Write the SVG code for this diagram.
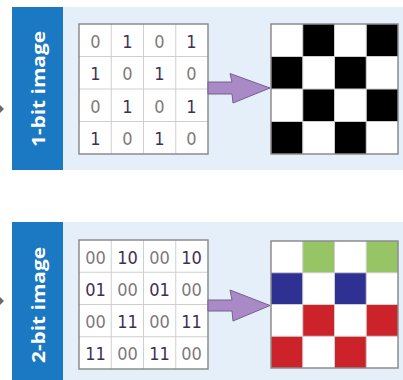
<svg xmlns="http://www.w3.org/2000/svg" width="403" height="380" viewBox="0 0 403 380">
<defs>
<style>
.panel{fill:#e4eff9}
.label{fill:#1b78c2}
.ltxt{font-family:"Open Sans","Liberation Sans",sans-serif;font-weight:bold;font-size:18px;fill:#ffffff}
.cellbg{fill:#ffffff}
.inner{stroke:#cfcfcf;stroke-width:1;fill:none}
.outer{stroke:#8c8c8c;stroke-width:1.5;fill:none}
.d0{font-family:"DejaVu Sans Condensed","DejaVu Sans",sans-serif;font-size:18px;fill:#807a7c;text-anchor:middle}
.d1{font-family:"DejaVu Sans Condensed","DejaVu Sans",sans-serif;font-size:18px;fill:#3e2f52;text-anchor:middle}
.arrow{fill:#a98ac6;stroke:#76608e;stroke-width:1}
.blk{fill:#000000}
.grn{fill:#97c465}
.blu{fill:#2e3192}
.red{fill:#cc2229}
.tick{fill:#6a6a6a}
</style>
</defs>

<g id="panel-1bit">
<rect class="panel" x="12" y="7" width="391" height="163"/>
<rect class="label" x="12" y="7" width="51" height="163"/>
<text class="ltxt" transform="translate(44.5,89) rotate(-90)" text-anchor="middle" textLength="116" lengthAdjust="spacingAndGlyphs">1-bit image</text>
<polygon class="tick" points="0,105 4,109 0,113"/>
</g>

<g id="matrix-1bit">
<rect class="cellbg" x="79" y="24" width="129" height="130"/>
<path class="inner" d="M111.25,24V154M143.5,24V154M175.75,24V154M79,56.5H208M79,89H208M79,121.5H208"/>
<rect class="outer" x="79" y="24" width="129" height="130"/>
<text class="d0" x="95.5" y="47.5">0</text><text class="d1" x="127.5" y="47.5">1</text><text class="d0" x="159.5" y="47.5">0</text><text class="d1" x="191.5" y="47.5">1</text>
<text class="d1" x="95.5" y="80">1</text><text class="d0" x="127.5" y="80">0</text><text class="d1" x="159.5" y="80">1</text><text class="d0" x="191.5" y="80">0</text>
<text class="d0" x="95.5" y="112.5">0</text><text class="d1" x="127.5" y="112.5">1</text><text class="d0" x="159.5" y="112.5">0</text><text class="d1" x="191.5" y="112.5">1</text>
<text class="d1" x="95.5" y="145">1</text><text class="d0" x="127.5" y="145">0</text><text class="d1" x="159.5" y="145">1</text><text class="d0" x="191.5" y="145">0</text>
</g>

<g id="image-1bit">
<rect class="cellbg" x="271" y="24" width="127" height="130"/>
<rect class="blk" x="302.75" y="24" width="31.75" height="32.5"/>
<rect class="blk" x="366.25" y="24" width="31.75" height="32.5"/>
<rect class="blk" x="271" y="56.5" width="31.75" height="32.5"/>
<rect class="blk" x="334.5" y="56.5" width="31.75" height="32.5"/>
<rect class="blk" x="302.75" y="89" width="31.75" height="32.5"/>
<rect class="blk" x="366.25" y="89" width="31.75" height="32.5"/>
<rect class="blk" x="271" y="121.5" width="31.75" height="32.5"/>
<rect class="blk" x="334.5" y="121.5" width="31.75" height="32.5"/>
<path class="inner" d="M302.75,24V154M334.5,24V154M366.25,24V154M271,56.5H398M271,89H398M271,121.5H398"/>
<rect class="outer" x="271" y="24" width="127" height="130"/>
</g>

<g id="panel-2bit">
<rect class="panel" x="12" y="222" width="391" height="158"/>
<rect class="label" x="12" y="222" width="51" height="158"/>
<text class="ltxt" transform="translate(44.5,305) rotate(-90)" text-anchor="middle" textLength="116" lengthAdjust="spacingAndGlyphs">2-bit image</text>
<polygon class="tick" points="0,297 4,301 0,305"/>
</g>

<g id="matrix-2bit">
<rect class="cellbg" x="79" y="240" width="129" height="129"/>
<path class="inner" d="M111.25,240V369M143.5,240V369M175.75,240V369M79,272.25H208M79,304.5H208M79,336.75H208"/>
<rect class="outer" x="79" y="240" width="129" height="129"/>
<text class="d0" x="95.5" y="263.5">00</text><text class="d1" x="127.5" y="263.5">10</text><text class="d0" x="159.5" y="263.5">00</text><text class="d1" x="191.5" y="263.5">10</text>
<text class="d1" x="95.5" y="295.5">01</text><text class="d0" x="127.5" y="295.5">00</text><text class="d1" x="159.5" y="295.5">01</text><text class="d0" x="191.5" y="295.5">00</text>
<text class="d0" x="95.5" y="328">00</text><text class="d1" x="127.5" y="328">11</text><text class="d0" x="159.5" y="328">00</text><text class="d1" x="191.5" y="328">11</text>
<text class="d1" x="95.5" y="360">11</text><text class="d0" x="127.5" y="360">00</text><text class="d1" x="159.5" y="360">11</text><text class="d0" x="191.5" y="360">00</text>
</g>

<g id="image-2bit">
<rect class="cellbg" x="271" y="241" width="127" height="127"/>
<rect class="grn" x="302.75" y="241" width="31.75" height="31.75"/>
<rect class="grn" x="366.25" y="241" width="31.75" height="31.75"/>
<rect class="blu" x="271" y="272.75" width="31.75" height="31.75"/>
<rect class="blu" x="334.5" y="272.75" width="31.75" height="31.75"/>
<rect class="red" x="302.75" y="304.5" width="31.75" height="31.75"/>
<rect class="red" x="366.25" y="304.5" width="31.75" height="31.75"/>
<rect class="red" x="271" y="336.25" width="31.75" height="31.75"/>
<rect class="red" x="334.5" y="336.25" width="31.75" height="31.75"/>
<path class="inner" d="M302.75,241V368M334.5,241V368M366.25,241V368M271,272.75H398M271,304.5H398M271,336.25H398"/>
<rect class="outer" x="271" y="241" width="127" height="127"/>
</g>

<g id="connectors">
<polygon class="arrow" points="208,82 232,82 230,73.5 270,88 233,103 232,94 208,94"/>
<polygon class="arrow" points="208,300 232,300 230,290 270,305.5 233,321 232,311 208,311"/>
</g>
</svg>
